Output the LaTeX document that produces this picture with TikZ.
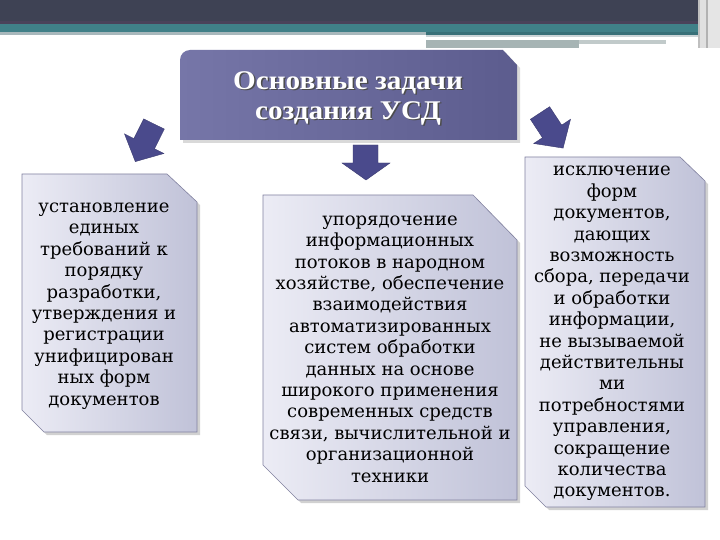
\documentclass[tikz,border=0pt]{standalone}
\usepackage{fontspec}
\setmainfont{Liberation Serif}[FakeStretch=1.08]
\newfontfamily\bodyfont{DejaVu Serif}
\usetikzlibrary{shadows}
\definecolor{topdark}{RGB}{62,66,84}
\definecolor{topline}{RGB}{74,66,90}
\definecolor{teal}{RGB}{64,128,136}
\definecolor{tealdark}{RGB}{56,112,120}
\definecolor{lightstrip}{RGB}{168,184,188}
\definecolor{graystrip}{RGB}{166,180,180}
\definecolor{titleL}{RGB}{118,118,168}
\definecolor{titleR}{RGB}{92,92,142}
\definecolor{boxL}{RGB}{236,236,245}
\definecolor{boxR}{RGB}{192,194,216}
\definecolor{boxedge}{RGB}{130,130,160}
\definecolor{arrowcol}{RGB}{74,74,140}
\tikzset{
  bodytext/.style={align=center, font=\bodyfont\fontsize{18}{21.4}\selectfont, text=black, inner sep=0pt},
  titletext/.style={align=center, font=\bfseries\fontsize{27}{30}\selectfont, inner sep=0pt},
  boxshape/.style={left color=boxL, right color=boxR, draw=boxedge, line width=0.6pt},
  boxshadow/.style={fill=black, opacity=0.18},
  blockarrow/.style={fill=arrowcol, draw=arrowcol!80!black, line width=0.4pt, line join=miter}
}
\begin{document}
\begin{tikzpicture}[x=1pt,y=-1pt]
\useasboundingbox (0,0) rectangle (720,540);
\fill[white] (0,0) rectangle (720,540);
% top bar
\fill[topdark] (0,0) rectangle (720,21);
\fill[topline] (0,21) rectangle (720,24);
\fill[teal] (0,24) rectangle (720,32);
\fill[lightstrip] (0,32) rectangle (426,35);
\fill[tealdark] (426,32) rectangle (720,35.5);
\fill[lightstrip!60!white] (426,35.5) rectangle (700,37);
\fill[graystrip] (426,40) rectangle (579,48);
\fill[graystrip!70!white] (579,40.5) rectangle (666,44);
\fill[black!25] (698,0) rectangle (700,48);
\fill[black!12] (700,0) rectangle (706,48);
\fill[black!30] (706,0) rectangle (708,48);
\fill[black!10] (708,0) rectangle (720,48);

% title box
\fill[black, opacity=0.15] (183,143) -- (183,63) arc[start angle=180,end angle=270,radius=10] -- (506,53) -- (520,68) -- (520,143) -- cycle;
\shade[left color=titleL, right color=titleR] (180,140) -- (180,60) arc[start angle=180,end angle=270,radius=10] -- (503,50) -- (517,65) -- (517,140) -- cycle;
\node[titletext, text=black!70] at (349.5,99.5) {Основные задачи\\создания УСД};
\node[titletext, text=white] (title) at (348,98) {Основные задачи\\создания УСД};

% arrows
\path[blockarrow] (143.7,118.9) -- (164.3,129.1) -- (154.5,148.8) -- (163.9,153.5) -- (135.3,161.6) -- (124.5,133.9) -- (133.9,138.6) -- cycle;
\path[blockarrow] (530.4,119.3) -- (549.6,106.7) -- (561.7,125.1) -- (570.5,119.3) -- (563.1,148.1) -- (533.7,143.5) -- (542.5,137.7) -- cycle;
\path[blockarrow] (353,145) -- (378,145) -- (378,163) -- (390,163) -- (366,180) -- (342,163) -- (353,163) -- cycle;

% left box
\fill[boxshadow] (25,177) -- (170,177) -- (200,205) -- (200,435) -- (47,435) -- (25,413) -- cycle;
\path[boxshape] (22,174) -- (167,174) -- (197,202) -- (197,432) -- (44,432) -- (22,410) -- cycle;
\node[bodytext] (left) at (104,306) {установление\\единых\\требований к\\порядку\\разработки,\\утверждения и\\регистрации\\унифицирован\\ных форм\\документов};

% middle box
\fill[boxshadow] (266,198) -- (476,198) -- (520,243) -- (520,503) -- (301,503) -- (266,468) -- cycle;
\path[boxshape] (263,195) -- (473,195) -- (517,240) -- (517,500) -- (298,500) -- (263,465) -- cycle;
\node[bodytext] (mid) at (390,349) {упорядочение\\информационных\\потоков в народном\\хозяйстве, обеспечение\\взаимодействия\\автоматизированных\\систем обработки\\данных на основе\\широкого применения\\современных средств\\связи, вычислительной и\\организационной\\техники};

% right box
\fill[boxshadow] (528,160) -- (683,160) -- (708,184) -- (708,510) -- (549,510) -- (528,489) -- cycle;
\path[boxshape] (525,157) -- (680,157) -- (705,181) -- (705,507) -- (546,507) -- (525,486) -- cycle;
\node[bodytext] (right) at (612,333.5) {исключение\\форм\\документов,\\дающих\\возможность\\сбора, передачи\\и обработки\\информации,\\не вызываемой\\действительны\\ми\\потребностями\\управления,\\сокращение\\количества\\документов.};
\end{tikzpicture}
\end{document}
